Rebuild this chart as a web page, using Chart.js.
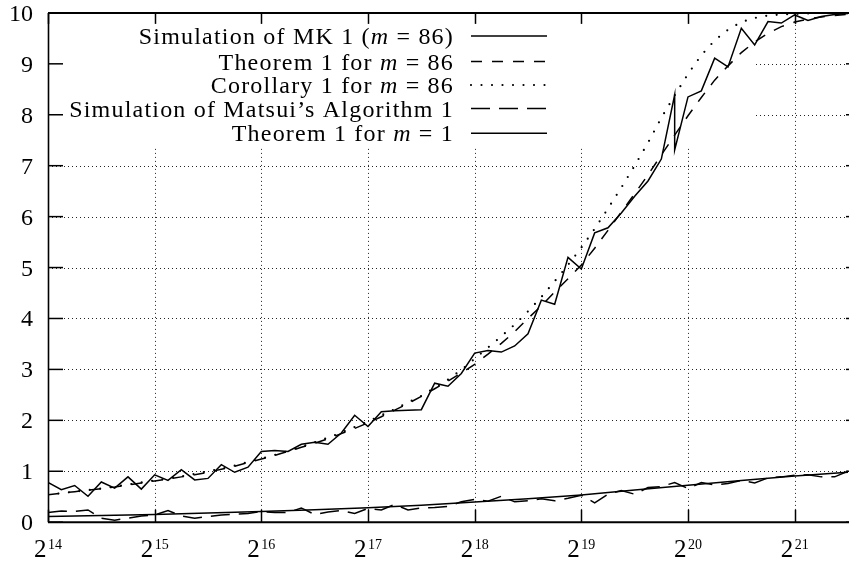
<!DOCTYPE html>
<html>
<head>
<meta charset="utf-8">
<script src="https://cdn.jsdelivr.net/npm/chart.js@4.4.0/dist/chart.umd.min.js"></script>
<style>
html, body { margin: 0; padding: 0; background: #fff; }
#wrap { width: 849px; height: 562px; }
</style>
</head>
<body>
<div id="wrap"><canvas id="c" width="849" height="562"></canvas></div>
<script>
// ---- data (x values are exponents e, i.e. N = 2^e) ----
const sampleExp = [
  14, 14.125, 14.25, 14.375, 14.5, 14.625, 14.75, 14.875,
  15, 15.125, 15.25, 15.375, 15.5, 15.625, 15.75, 15.875,
  16, 16.125, 16.25, 16.375, 16.5, 16.625, 16.75, 16.875,
  17, 17.125, 17.25, 17.375, 17.5, 17.625, 17.75, 17.875,
  18, 18.125, 18.25, 18.375, 18.5, 18.625, 18.75, 18.875,
  19, 19.125, 19.25, 19.375, 19.5, 19.625, 19.75, 19.875,
  20, 20.125, 20.25, 20.375, 20.5, 20.625, 20.75, 20.875,
  21, 21.125, 21.25, 21.375, 21.5
];
const mkExp = [
  14, 14.125, 14.25, 14.375, 14.5, 14.625, 14.75, 14.875,
  15, 15.125, 15.25, 15.375, 15.5, 15.625, 15.75, 15.875,
  16, 16.125, 16.25, 16.375, 16.5, 16.625, 16.75, 16.875,
  17, 17.125, 17.25, 17.375, 17.5, 17.625, 17.75, 17.875,
  18, 18.125, 18.25, 18.375, 18.5, 18.625, 18.75, 18.875,
  19, 19.125, 19.25, 19.375, 19.5, 19.625, 19.75, 19.875, 19.875,
  20, 20.125, 20.25, 20.375, 20.5, 20.625, 20.75, 20.875,
  21, 21.125, 21.25, 21.375, 21.5
];
const halfExp = [14, 14.5, 15, 15.5, 16, 16.5, 17, 17.5, 18, 18.5, 19, 19.5, 20, 20.5, 21, 21.5];

const mkSim = [
  0.78, 0.64, 0.72, 0.51, 0.79, 0.67, 0.89, 0.65,
  0.93, 0.82, 1.03, 0.83, 0.86, 1.13, 0.98, 1.08,
  1.39, 1.41, 1.39, 1.53, 1.57, 1.53, 1.75, 2.10,
  1.88, 2.17, 2.19, 2.20, 2.21, 2.73, 2.67, 2.92,
  3.32, 3.37, 3.34, 3.46, 3.70, 4.36, 4.28, 5.20,
  4.97, 5.68, 5.78, 6.07, 6.40, 6.70, 7.13, 8.39, 7.31,
  8.35, 8.47, 9.11, 8.94, 9.70, 9.37, 9.83, 9.80,
  9.96, 9.85, 9.93, 9.97, 9.99
];
const thm86 = [
  0.54, 0.57, 0.60, 0.63, 0.66, 0.69, 0.73, 0.77,
  0.81, 0.85, 0.89, 0.93, 0.98, 1.04, 1.10, 1.17,
  1.24, 1.31, 1.39, 1.47, 1.55, 1.64, 1.74, 1.84,
  1.95, 2.07, 2.20, 2.33, 2.47, 2.62, 2.77, 2.93,
  3.10, 3.30, 3.51, 3.74, 4.00, 4.25, 4.52, 4.78,
  5.05, 5.38, 5.73, 6.09, 6.45, 6.82, 7.21, 7.60,
  7.98, 8.34, 8.68, 8.96, 9.22, 9.43, 9.60, 9.73,
  9.82, 9.88, 9.92, 9.95, 9.97
];
const cor86 = [
  0.54, 0.57, 0.60, 0.63, 0.66, 0.70, 0.74, 0.78,
  0.82, 0.86, 0.90, 0.95, 1.00, 1.05, 1.11, 1.18,
  1.25, 1.32, 1.40, 1.48, 1.57, 1.66, 1.76, 1.87,
  1.98, 2.10, 2.22, 2.35, 2.48, 2.64, 2.80, 2.99,
  3.21, 3.43, 3.65, 3.88, 4.14, 4.42, 4.73, 5.05,
  5.39, 5.76, 6.16, 6.57, 7.00, 7.45, 7.94, 8.38,
  8.80, 9.17, 9.46, 9.67, 9.82, 9.90, 9.95, 9.97,
  9.98, 9.99, 10.0, 10.0, 10.0
];
const matsuiSim = [
  0.19, 0.22, 0.21, 0.24, 0.08, 0.04, 0.08, 0.12,
  0.14, 0.23, 0.12, 0.08, 0.11, 0.14, 0.16, 0.17,
  0.21, 0.19, 0.19, 0.28, 0.15, 0.20, 0.23, 0.17,
  0.27, 0.24, 0.35, 0.24, 0.28, 0.29, 0.31, 0.40,
  0.45, 0.41, 0.51, 0.40, 0.42, 0.46, 0.42, 0.47,
  0.53, 0.38, 0.55, 0.62, 0.55, 0.68, 0.70, 0.78,
  0.66, 0.78, 0.73, 0.76, 0.82, 0.77, 0.87, 0.89,
  0.92, 0.93, 0.89, 0.89, 1.00
];
const thm1 = [0.11, 0.13, 0.15, 0.18, 0.21, 0.245, 0.285, 0.335, 0.395, 0.46, 0.535, 0.63, 0.725, 0.82, 0.905, 0.98];

const xTickExp = [14, 15, 16, 17, 18, 19, 20, 21];
const xGridExp = [15, 16, 17, 18, 19, 20, 21];
const yTickValues = [0, 1, 2, 3, 4, 5, 6, 7, 8, 9, 10];
const yGridValues = [1, 2, 3, 4, 5, 6, 7, 8, 9];

const legendRows = [
  [["Simulation of MK 1 (", false], ["m", true], [" = 86)", false]],
  [["Theorem 1 for ", false], ["m", true], [" = 86", false]],
  [["Corollary 1 for ", false], ["m", true], [" = 86", false]],
  [["Simulation of Matsui\u2019s Algorithm 1", false]],
  [["Theorem 1 for ", false], ["m", true], [" = 1", false]]
];

// ---- styles ----
const FONT = '"Liberation Serif", "Times New Roman", serif';
const styles = [
  { dash: [], width: 1.5, cap: 'butt' },
  { dash: [11, 10], width: 1.5, cap: 'butt' },
  { dash: [0, 10.5], width: 2.2, cap: 'round' },
  { dash: [19, 9], width: 1.5, cap: 'butt' },
  { dash: [], width: 1.5, cap: 'butt' }
];

const toPts = (ex, vals) => ex.map((e, i) => ({ x: Math.pow(2, e), y: vals[i] }));
const seriesData = [
  toPts(mkExp, mkSim),
  toPts(sampleExp, thm86),
  toPts(sampleExp, cor86),
  toPts(sampleExp, matsuiSim),
  toPts(halfExp, thm1)
];

const frame = {
  id: 'frame',
  beforeDatasetsDraw(chart) {
    const { ctx, chartArea: a, scales: { x, y } } = chart;
    ctx.save();
    ctx.strokeStyle = '#222';
    ctx.lineWidth = 1;
    ctx.setLineDash([1, 3]);
    yGridValues.forEach(v => {
      const py = Math.round(y.getPixelForValue(v)) + 0.5;
      ctx.beginPath(); ctx.moveTo(a.left, py); ctx.lineTo(a.right, py); ctx.stroke();
    });
    xGridExp.forEach(e => {
      const px = Math.round(x.getPixelForValue(Math.pow(2, e))) + 0.5;
      ctx.beginPath(); ctx.moveTo(px, a.top); ctx.lineTo(px, a.bottom); ctx.stroke();
    });
    ctx.setLineDash([]);
    // opaque key area hides the grid
    ctx.fillStyle = '#fff';
    ctx.fillRect(a.left + 1, a.top + 1, 754 - a.left - 1, 148 - a.top - 1);
    ctx.restore();
  },
  afterDatasetsDraw(chart) {
    const { ctx, chartArea: a, scales: { x, y } } = chart;
    ctx.save();
    ctx.strokeStyle = '#000';
    ctx.fillStyle = '#000';
    // border
    ctx.lineWidth = 1.6;
    ctx.beginPath(); ctx.moveTo(a.left + 0.5, a.top); ctx.lineTo(a.left + 0.5, a.bottom); ctx.stroke();
    ctx.lineWidth = 2;
    ctx.beginPath(); ctx.moveTo(a.left, a.top); ctx.lineTo(a.right + 1, a.top); ctx.stroke();
    ctx.beginPath(); ctx.moveTo(a.left, a.bottom); ctx.lineTo(a.right + 1, a.bottom); ctx.stroke();
    // ticks
    ctx.lineWidth = 1.5;
    yTickValues.forEach(v => {
      const py = y.getPixelForValue(v);
      ctx.beginPath(); ctx.moveTo(a.left, py); ctx.lineTo(a.left + 15, py); ctx.stroke();
      ctx.beginPath(); ctx.moveTo(a.right - 2, py); ctx.lineTo(a.right + 1, py); ctx.stroke();
    });
    xTickExp.forEach(e => {
      const px = Math.round(x.getPixelForValue(Math.pow(2, e))) + 0.5;
      ctx.beginPath(); ctx.moveTo(px, a.bottom); ctx.lineTo(px, a.bottom - 12.5); ctx.stroke();
      ctx.beginPath(); ctx.moveTo(px, a.top); ctx.lineTo(px, a.top + 11); ctx.stroke();
    });
    // y tick labels
    ctx.font = '24px ' + FONT;
    ctx.textAlign = 'right';
    ctx.textBaseline = 'alphabetic';
    yTickValues.forEach(v => {
      ctx.fillText(String(v), 33, y.getPixelForValue(v) + 8);
    });
    // x tick labels 2^e
    ctx.textAlign = 'left';
    xTickExp.forEach(e => {
      const px = x.getPixelForValue(Math.pow(2, e));
      ctx.font = '25px ' + FONT;
      const wb = ctx.measureText('2').width;
      ctx.font = '14px ' + FONT;
      const ws = ctx.measureText(String(e)).width;
      const start = px - (wb + 1.5 + ws) / 2;
      ctx.font = '25px ' + FONT;
      ctx.fillText('2', start, 557);
      ctx.font = '14px ' + FONT;
      ctx.fillText(String(e), start + wb + 1.5, 548.5);
    });
    ctx.restore();
  },
  afterDraw(chart) {
    const { ctx } = chart;
    const rowY = [36, 61.5, 85, 108.5, 133.3];
    ctx.save();
    ctx.fillStyle = '#000';
    ctx.strokeStyle = '#000';
    ctx.textBaseline = 'alphabetic';
    ctx.textAlign = 'left';
    legendRows.forEach((parts, r) => {
      const ly = rowY[r];
      ctx.letterSpacing = '1.2px';
      const widths = parts.map(([t, it]) => {
        ctx.font = (it ? 'italic ' : '') + '24px ' + FONT;
        return ctx.measureText(t).width;
      });
      let total = widths.reduce((s, w) => s + w, 0);
      let px = 454 - total;
      parts.forEach(([t, it], i) => {
        ctx.font = (it ? 'italic ' : '') + '24px ' + FONT;
        ctx.fillText(t, px, ly + 8);
        px += widths[i];
      });
      ctx.letterSpacing = '0px';
      const st = styles[r];
      ctx.lineWidth = st.width;
      ctx.lineCap = st.cap;
      ctx.setLineDash(st.dash);
      ctx.beginPath(); ctx.moveTo(471, ly); ctx.lineTo(547, ly); ctx.stroke();
      ctx.setLineDash([]);
    });
    ctx.restore();
  }
};

new Chart(document.getElementById('c'), {
  type: 'line',
  data: {
    datasets: seriesData.map((d, i) => ({
      label: legendRows[i].map(p => p[0]).join(''),
      data: d,
      borderColor: '#000',
      backgroundColor: '#000',
      borderWidth: styles[i].width,
      borderDash: styles[i].dash,
      borderCapStyle: styles[i].cap,
      pointRadius: 0,
      tension: 0,
      fill: false
    }))
  },
  options: {
    responsive: false,
    animation: false,
    layout: { padding: { top: 12.9, right: 1, left: 0, bottom: 0 } },
    plugins: { legend: { display: false }, tooltip: { enabled: false } },
    scales: {
      x: {
        type: 'logarithmic',
        min: Math.pow(2, 14),
        max: Math.pow(2, 21.5),
        ticks: { display: false },
        grid: { display: false },
        border: { display: false },
        afterFit(s) { s.height = 562 - 522.2; }
      },
      y: {
        type: 'linear',
        min: 0,
        max: 10,
        ticks: { display: false },
        grid: { display: false },
        border: { display: false },
        afterFit(s) { s.width = 48; }
      }
    }
  },
  plugins: [frame]
});
</script>
</body>
</html>
